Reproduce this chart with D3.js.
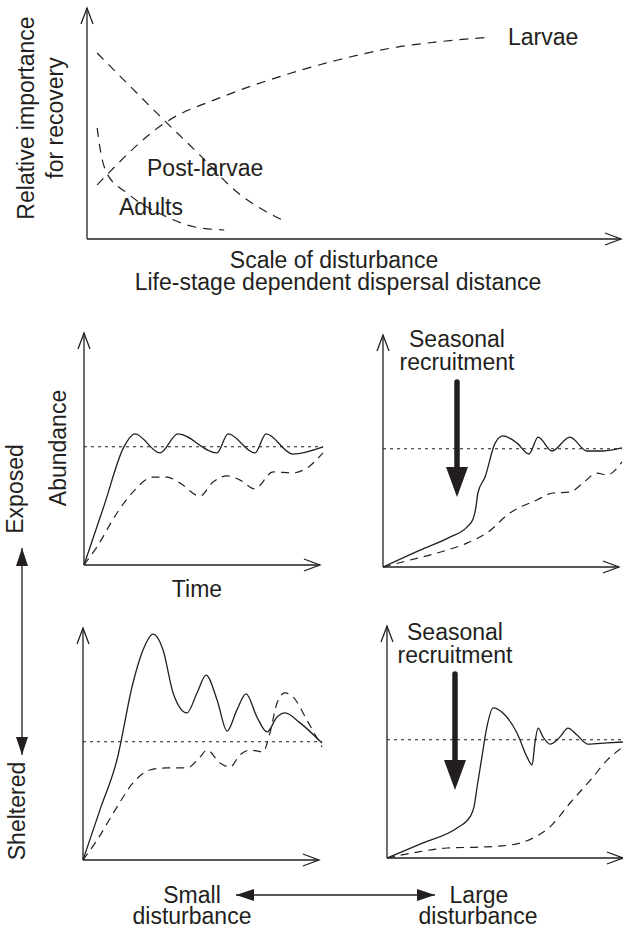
<!DOCTYPE html>
<html>
<head>
<meta charset="utf-8">
<script src="https://cdn.jsdelivr.net/npm/d3@7"></script>
<style>
  body { margin: 0; background: #fff; }
  text { font-family: "Liberation Sans", Arial, Helvetica, sans-serif; fill: #231f20; }
</style>
</head>
<body>
<div id="chart"></div>
<script>
/* Top panel: relative importance (0-100) against scale of disturbance (0-100) */
const larvae = [[1.9, 23.4], [14.8, 50.6], [25.3, 61.5], [35.8, 70.1], [47.0, 77.5], [58.1, 83.1], [65.5, 85.3], [75.7, 87.4]];
const postLarvae = [[1.9, 80.5], [8.2, 65.8], [14.8, 50.6], [20.2, 38.5], [28.3, 19.9], [37.3, 7.4]];
const adults = [[1.9, 48.1], [2.6, 37.2], [3.7, 28.6], [7.5, 19.9], [15.0, 9.5], [20.2, 5.2], [25.7, 3.9]];

/* Lower panels: abundance (0-100) against time (0-100) */
const equilibrium = 51;

const exposedSmallSolid = [[0, 0], [8.4, 25.6], [16.7, 50.9], [21.3, 56.5], [31.8, 48.3], [39.3, 56.5], [55.6, 48.3], [60.3, 56.5], [71.5, 48.3], [76.2, 56.5], [87.4, 47.8], [100, 50.9]];
const exposedSmallDashed = [[0, 0], [5.4, 7.8], [13.8, 22.4], [20.5, 31.5], [28.9, 37.9], [34.7, 37.9], [40.2, 35.3], [48.5, 29.7], [54.0, 35.8], [59.8, 38.4], [65.3, 36.6], [71.5, 32.8], [79.1, 40.1], [87.4, 39.7], [93.3, 41.8], [100, 48.3]];

const exposedLargeSolid = [[0, 0], [15.5, 7.3], [28.0, 12.9], [35.1, 17.2], [37.7, 20.7], [38.9, 25.9], [39.7, 31.9], [42.7, 38.8], [46.9, 53.4], [50.2, 56.5], [56.1, 53.4], [61.1, 48.7], [64.9, 56.0], [70.7, 50.0], [78.2, 56.0], [85.4, 50.0], [92.1, 50.0], [100, 51.3]];
const exposedLargeDashed = [[0, 0], [11.3, 3.0], [22.6, 6.0], [35.1, 10.3], [43.5, 14.7], [53.1, 23.3], [64.4, 28.9], [71.1, 31.9], [78.2, 32.3], [83.7, 36.2], [89.5, 40.5], [93.7, 39.7], [100, 45.3]];

const shelteredSmallSolid = [[0, 0], [7.1, 21.6], [14.2, 43.1], [20.9, 76.3], [25.1, 90.5], [29.3, 97.4], [33.5, 90.5], [37.7, 72.0], [43.5, 63.4], [47.7, 72.0], [51.5, 79.7], [56.1, 69.0], [60.3, 55.6], [64.4, 64.7], [68.2, 71.6], [72.8, 61.6], [77.0, 55.2], [81.2, 61.6], [84.5, 63.4], [90.8, 59.1], [100, 50.4]];
const shelteredSmallDashed = [[0, 0], [5.9, 8.6], [14.2, 22.8], [20.9, 33.2], [28.0, 38.8], [35.1, 39.7], [43.5, 39.7], [49.0, 44.4], [51.9, 47.4], [57.3, 41.8], [61.5, 40.1], [65.7, 45.3], [69.9, 47.4], [75.3, 46.6], [78.2, 54.7], [81.2, 67.7], [84.5, 72.0], [87.9, 70.3], [93.7, 60.3], [100, 48.7]];

const shelteredLargeSolid = [[0, 0], [15.1, 6.5], [29.3, 12.9], [34.7, 17.7], [36.4, 22.0], [37.7, 30.6], [39.7, 43.5], [41.8, 56.5], [44.4, 64.7], [48.5, 62.5], [54.4, 53.9], [58.6, 43.5], [60.7, 40.1], [61.9, 49.6], [63.2, 56.0], [65.3, 52.2], [68.2, 49.1], [72.4, 52.2], [75.7, 56.0], [79.5, 53.0], [84.1, 49.1], [92.1, 49.6], [98.7, 50.0]];
const shelteredLargeDashed = [[0, 0], [10.9, 2.2], [25.1, 4.3], [38.9, 4.7], [51.5, 5.6], [61.1, 8.6], [68.2, 13.4], [76.6, 23.7], [86.2, 34.9], [92.1, 42.2], [98.7, 47.8]];

const width = 623;
const height = 928;
const ink = "#231f20";
const fontSize = 23;

const svg = d3.select("#chart")
  .append("svg")
  .attr("width", width)
  .attr("height", height);

const defs = svg.append("defs");

// filled arrow head for the double arrows
defs.append("marker")
  .attr("id", "head")
  .attr("viewBox", "0 0 18 12")
  .attr("refX", 18)
  .attr("refY", 6)
  .attr("markerWidth", 18)
  .attr("markerHeight", 12)
  .attr("markerUnits", "userSpaceOnUse")
  .attr("orient", "auto-start-reverse")
  .append("path")
    .attr("d", "M0,0 L18,6 L0,12 Z")
    .attr("fill", ink);

function openArrow(g, x1, y1, x2, y2) {
  g.append("line")
    .attr("x1", x1).attr("y1", y1)
    .attr("x2", x2).attr("y2", y2)
    .attr("stroke", ink)
    .attr("stroke-width", 1.3);
  const a = Math.atan2(y2 - y1, x2 - x1);
  const len = 16, half = 6;
  const bx = x2 - len * Math.cos(a), by = y2 - len * Math.sin(a);
  const px = -Math.sin(a) * half, py = Math.cos(a) * half;
  g.append("path")
    .attr("d", `M${bx + px},${by + py} L${x2},${y2} L${bx - px},${by - py}`)
    .attr("fill", "none")
    .attr("stroke", ink)
    .attr("stroke-width", 1.3);
}

function addText(g, x, y, str, anchor, rotate) {
  const t = g.append("text")
    .attr("font-size", fontSize)
    .attr("text-anchor", anchor || "start")
    .text(str);
  if (rotate) {
    t.attr("transform", `translate(${x},${y}) rotate(-90)`);
  } else {
    t.attr("x", x).attr("y", y);
  }
  return t;
}

/* ---- top panel ---- */
const topPanel = svg.append("g");

const xTop = d3.scaleLinear().domain([0, 100]).range([87, 621]);
const yTop = d3.scaleLinear().domain([0, 100]).range([239, 8]);

openArrow(topPanel, xTop(0), yTop(0), xTop(0), yTop(100));
openArrow(topPanel, xTop(0), yTop(0), xTop(100), yTop(0));

const lineTop = d3.line()
  .x(d => xTop(d[0]))
  .y(d => yTop(d[1]))
  .curve(d3.curveMonotoneX);

[larvae, postLarvae, adults].forEach(series => {
  topPanel.append("path")
    .datum(series)
    .attr("fill", "none")
    .attr("stroke", ink)
    .attr("stroke-width", 1.2)
    .attr("stroke-dasharray", "9,7")
    .attr("d", lineTop);
});

addText(topPanel, 508, 45, "Larvae");
addText(topPanel, 147, 176, "Post-larvae");
addText(topPanel, 119, 215, "Adults");
addText(topPanel, 34, 118, "Relative importance", "middle", true);
addText(topPanel, 63, 118, "for recovery", "middle", true);
addText(topPanel, 334, 268, "Scale of disturbance", "middle");
addText(topPanel, 338, 290, "Life-stage dependent dispersal distance", "middle");

/* ---- four abundance panels ---- */
function drawPanel(ox, oy, solid, dashed) {
  const g = svg.append("g");
  const x = d3.scaleLinear().domain([0, 100]).range([ox, ox + 239]);
  const y = d3.scaleLinear().domain([0, 100]).range([oy, oy - 232]);

  openArrow(g, x(0), y(0), x(0), y(100));
  openArrow(g, x(0), y(0), x(98.7), y(0));

  g.append("line")
    .attr("x1", x(0)).attr("x2", x(100))
    .attr("y1", y(equilibrium)).attr("y2", y(equilibrium))
    .attr("stroke", ink)
    .attr("stroke-width", 1.1)
    .attr("stroke-dasharray", "3,4");

  const line = d3.line()
    .x(d => x(d[0]))
    .y(d => y(d[1]))
    .curve(d3.curveMonotoneX);

  g.append("path")
    .datum(dashed)
    .attr("fill", "none")
    .attr("stroke", ink)
    .attr("stroke-width", 1.2)
    .attr("stroke-dasharray", "8,6")
    .attr("d", line);

  g.append("path")
    .datum(solid)
    .attr("fill", "none")
    .attr("stroke", ink)
    .attr("stroke-width", 1.3)
    .attr("d", line);

  return g;
}

function recruitment(g, cx, yText, yStart, yTip) {
  addText(g, cx, yText, "Seasonal", "middle");
  addText(g, cx, yText + 23, "recruitment", "middle");
  g.append("line")
    .attr("x1", cx).attr("x2", cx)
    .attr("y1", yStart).attr("y2", yTip - 26)
    .attr("stroke", ink)
    .attr("stroke-width", 5.5)
    .attr("stroke-linecap", "round");
  g.append("path")
    .attr("d", `M${cx - 11},${yTip - 30} L${cx + 11},${yTip - 30} L${cx},${yTip} Z`)
    .attr("fill", ink);
}

const ul = drawPanel(84, 565, exposedSmallSolid, exposedSmallDashed);
const ur = drawPanel(383, 567, exposedLargeSolid, exposedLargeDashed);
const ll = drawPanel(83, 860, shelteredSmallSolid, shelteredSmallDashed);
const lr = drawPanel(387, 858, shelteredLargeSolid, shelteredLargeDashed);

recruitment(ur, 457, 347, 382, 497);
recruitment(lr, 455, 640, 674, 790);

addText(ul, 66, 448, "Abundance", "middle", true);
addText(ul, 197, 597, "Time", "middle");

/* ---- side labels and double arrows ---- */
const labels = svg.append("g");
addText(labels, 23, 489, "Exposed", "middle", true);
addText(labels, 25, 811, "Sheltered", "middle", true);

labels.append("line")
  .attr("x1", 22).attr("x2", 22)
  .attr("y1", 548).attr("y2", 755)
  .attr("stroke", ink)
  .attr("stroke-width", 1.3)
  .attr("marker-start", "url(#head)")
  .attr("marker-end", "url(#head)");

labels.append("line")
  .attr("x1", 236).attr("x2", 435)
  .attr("y1", 895).attr("y2", 895)
  .attr("stroke", ink)
  .attr("stroke-width", 1.3)
  .attr("marker-start", "url(#head)")
  .attr("marker-end", "url(#head)");

addText(labels, 192, 903, "Small", "middle");
addText(labels, 192, 924, "disturbance", "middle");
addText(labels, 479, 903, "Large", "middle");
addText(labels, 478, 924, "disturbance", "middle");
</script>
</body>
</html>
